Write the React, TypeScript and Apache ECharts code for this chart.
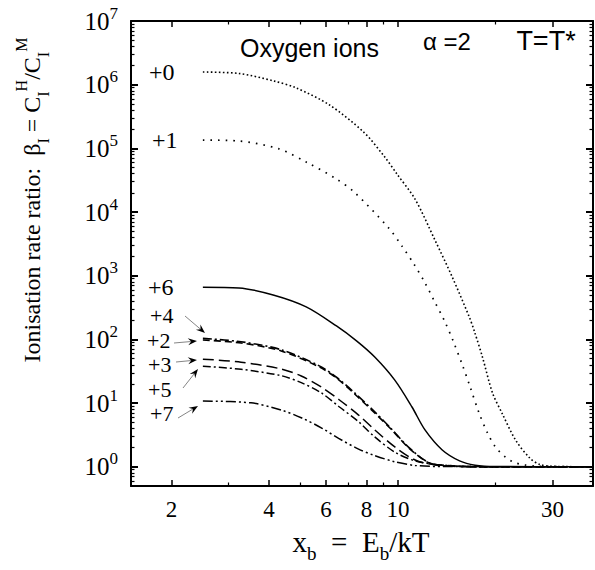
import React, { useEffect, useRef } from "react";
import * as echarts from "echarts";

// ---- data: [x_b, beta_I] ----
const ion0: [number, number][] = [[2.5,1.58e6],[3.23,1.5e6],[4.12,1.15e6],[4.85,8.9e5],[6.15,4.8e5],[7.84,1.8e5],[9.11,7.3e4],[9.93,3.96e4],[11.29,1.6e4],[13.02,3.6e3],[14.71,955],[16.61,224],[17.2,136],[18.23,53],[19.58,14.5],[21,6.8],[23.07,2.64],[25.5,1.38],[27.4,1.09],[30,1.02],[40,1]];
const ion1: [number, number][] = [[2.5,1.35e5],[3.2,1.31e5],[4.3,9.8e4],[5.21,6.1e4],[6.46,3.3e4],[7.35,2.03e4],[9.37,5.6e3],[10.3,2.9e3],[11.2,1.53e3],[12.1,785],[12.9,417],[13.9,199],[14.8,95],[15.8,40],[16.7,18],[17.8,7],[18.9,3.4],[20,2.05],[21.5,1.41],[22.9,1.17],[24.6,1.07],[27,1.02],[40,1]];
const ion6: [number, number][] = [[2.5,663],[3.23,645],[4.12,500],[5.21,325],[6.46,163],[7.45,95],[8.48,53],[9.78,23],[11.05,8.7],[12.12,3.8],[13.7,1.84],[15.5,1.24],[17.3,1.06],[20,1.01],[40,1]];
const ion4: [number, number][] = [[2.5,104],[3.28,92],[4.36,69],[5.72,38.5],[6.46,25.5],[7.3,15],[8.48,7.3],[9.57,3.9],[10.8,2.02],[12.5,1.16],[14.7,1.04],[18,1],[40,1]];
const ion2: [number, number][] = [[2.5,98],[3.28,88],[4.36,66],[5.72,37],[6.46,24.8],[7.3,14.4],[8.48,7],[9.57,3.8],[10.8,1.98],[12.5,1.15],[14.7,1.04],[18,1],[40,1]];
const ion3: [number, number][] = [[2.5,49],[3.28,44],[4.36,34.4],[5.03,26.7],[5.8,17.9],[6.6,11.2],[7.56,6.5],[8.48,3.8],[9.78,2.05],[11.3,1.28],[13,1.07],[16,1.01],[40,1]];
const ion5: [number, number][] = [[2.5,38],[3.28,34],[4.36,27],[5.03,21],[5.8,14.5],[6.6,8.7],[7.56,5.1],[8.48,2.95],[9.78,1.7],[11.3,1.24],[13.7,1.05],[16,1.01],[40,1]];
const ion7: [number, number][] = [[2.5,10.8],[3.52,10.1],[4.36,7.8],[5.03,5.9],[5.8,4.1],[6.56,2.8],[7.56,1.9],[8.48,1.5],[9.78,1.2],[11.3,1.05],[14,1.01],[40,1]];

const xMajorTicks = [2, 4, 6, 8, 10, 30];
const xMinorTicks = [3, 5, 7, 9, 20];
const yMajorTicks = [1, 10, 100, 1e3, 1e4, 1e5, 1e6, 1e7];
const yMinorTicks: number[] = [0.6, 0.7, 0.8, 0.9];
for (let e = 0; e < 7; e++) for (let k = 2; k <= 9; k++) yMinorTicks.push(k * Math.pow(10, e));

const seriesNames = ["+0", "+1", "+6", "+4", "+2", "+3", "+5", "+7"];

const SERIF = "'Liberation Serif', 'DejaVu Serif', serif";
const SANS = "'Liberation Sans', Arial, sans-serif";

function arrow(x1: number, y1: number, x2: number, y2: number) {
  const dx = x2 - x1, dy = y2 - y1;
  const len = Math.hypot(dx, dy);
  const ux = dx / len, uy = dy / len;
  const L = 9, W = 3.5;
  const bx = x2 - L * ux, by = y2 - L * uy;
  const nx = x2 - 0.65 * L * ux, ny = y2 - 0.65 * L * uy;
  return [
    { type: "line", shape: { x1, y1, x2: nx, y2: ny }, style: { stroke: "#777", lineWidth: 0.9 } },
    {
      type: "polygon",
      shape: { points: [[x2, y2], [bx - W * uy, by + W * ux], [nx, ny], [bx + W * uy, by - W * ux]] },
      style: { fill: "#000" },
    },
  ];
}

export default function App() {
  const ref = useRef<HTMLDivElement>(null);
  useEffect(() => {
    if (!ref.current) return;
    const chart = echarts.init(ref.current, null, { renderer: "svg" });

    const mkX = (pos: string, ticks: number[], len: number, w: number, labels: boolean, line: boolean) => ({
      type: "log",
      min: 1.5,
      max: 40,
      position: pos,
      axisLine: { show: line, lineStyle: { color: "#000", width: 2 } },
      axisTick: { show: true, inside: true, length: len, customValues: ticks, lineStyle: { color: "#000", width: w } },
      axisLabel: labels
        ? { show: true, customValues: xMajorTicks, margin: 12, fontSize: 23, fontFamily: SERIF, color: "#000", formatter: (v: number) => String(Math.round(v)) }
        : { show: false },
      minorTick: { show: false },
      splitLine: { show: false },
    });
    const mkY = (pos: string, ticks: number[], len: number, w: number, labels: boolean, line: boolean) => ({
      type: "log",
      min: 0.5,
      max: 1e7,
      position: pos,
      axisLine: { show: line, lineStyle: { color: "#000", width: 2 } },
      axisTick: { show: true, inside: true, length: len, customValues: ticks, lineStyle: { color: "#000", width: w } },
      axisLabel: labels
        ? {
            show: true,
            customValues: yMajorTicks,
            margin: 13,
            formatter: (v: number) => `{b|10}{s|${Math.round(Math.log10(v))}}`,
            rich: {
              b: { fontSize: 25, fontFamily: SERIF, color: "#000", lineHeight: 33 },
              s: { fontSize: 17, fontFamily: SERIF, color: "#000", verticalAlign: "top", lineHeight: 17 },
            },
          }
        : { show: false },
      minorTick: { show: false },
      splitLine: { show: false },
    });

    const styles: any[] = [
      { type: [1.6, 2.4], width: 1.6 },
      { type: [1.6, 6], width: 1.7 },
      { type: "solid", width: 1.5 },
      { type: [9, 3, 2, 3], width: 1.6 },
      { type: [7, 4], width: 1.6 },
      { type: [11, 5], width: 1.5 },
      { type: [8, 3, 2, 3], width: 1.5 },
      { type: [10, 3, 2, 3, 2, 3], width: 1.5 },
    ];
    const datas = [ion0, ion1, ion6, ion4, ion2, ion3, ion5, ion7];

    const labelPos: [string, number, number, number][] = [
      ["+0", 149, 72, 24], ["+1", 152, 140, 24], ["+6", 148, 287, 24], ["+4", 150, 315, 22],
      ["+2", 147, 340, 22], ["+3", 148, 364.5, 22], ["+5", 148, 389, 22], ["+7", 150, 413.5, 22],
    ];
    const graphics: any[] = labelPos.map(([t, x, y, fs]) => ({
      type: "text", x, y,
      style: { text: t, fontSize: fs, lineHeight: 20, fontFamily: SERIF, fill: "#000", align: "left", verticalAlign: "middle" },
    }));
    graphics.push(
      ...arrow(185, 316, 205, 333),
      ...arrow(174, 343, 197, 341),
      ...arrow(176, 362, 197, 360),
      ...arrow(183, 388, 198, 369),
      ...arrow(178, 418, 198, 406),
    );
    graphics.push({
      type: "text", x: 240, y: 48,
      style: { text: "Oxygen ions", fontSize: 25, fontFamily: SANS, fill: "#000", align: "left", verticalAlign: "middle" },
    });
    graphics.push({
      type: "text", x: 423, y: 41,
      style: { text: "α =2", fontSize: 24, fontFamily: SANS, fill: "#000", align: "left", verticalAlign: "middle" },
    });
    graphics.push({
      type: "text", x: 546, y: 41,
      style: { text: "T=T*", fontSize: 27, fontFamily: SANS, fill: "#000", align: "center", verticalAlign: "middle" },
    });
    graphics.push({
      type: "text", x: 361, y: 542,
      style: {
        text: "{m|x}{sub|b}{m|  =  E}{sub|b}{m|/kT}",
        align: "center", verticalAlign: "middle",
        rich: {
          m: { fontSize: 29, fontFamily: SERIF, fill: "#000", lineHeight: 42 },
          sub: { fontSize: 19, fontFamily: SERIF, fill: "#000", verticalAlign: "bottom", lineHeight: 19 },
        },
      },
    });
    graphics.push({
      type: "text", x: 32, y: 200, rotation: Math.PI / 2,
      style: {
        text: "{m|Ionisation rate ratio:  β}{sub|I}{m| = C}{sub|I}{sup|H}{m|/C}{sub|I}{sup|M}",
        align: "center", verticalAlign: "middle",
        rich: {
          m: { fontSize: 24, fontFamily: SERIF, fill: "#000", lineHeight: 38 },
          sub: { fontSize: 16, fontFamily: SERIF, fill: "#000", verticalAlign: "bottom", lineHeight: 16 },
          sup: { fontSize: 16, fontFamily: SERIF, fill: "#000", verticalAlign: "top", lineHeight: 16 },
        },
      },
    });

    chart.setOption({
      animation: false,
      backgroundColor: "#fff",
      grid: { left: 131, top: 21, width: 462, height: 465, containLabel: false, outerBoundsMode: "none" },
      xAxis: [
        mkX("bottom", xMajorTicks, 6, 1.5, true, true),
        mkX("bottom", xMinorTicks, 3.5, 1.2, false, false),
        mkX("top", xMajorTicks, 6, 1.5, false, true),
        mkX("top", xMinorTicks, 3.5, 1.2, false, false),
      ],
      yAxis: [
        mkY("left", yMajorTicks, 7, 2, true, true),
        mkY("left", yMinorTicks, 3.5, 1.2, false, false),
        mkY("right", yMajorTicks, 7, 2, false, true),
        mkY("right", yMinorTicks, 3.5, 1.2, false, false),
      ],
      series: datas.map((d, i) => ({
        name: seriesNames[i],
        type: "line",
        xAxisIndex: 0,
        yAxisIndex: 0,
        data: d,
        showSymbol: false,
        smooth: 0.3,
        lineStyle: { color: "#000", ...styles[i] },
        z: 3,
      })),
      graphic: graphics,
    });
    return () => chart.dispose();
  }, []);
  return <div ref={ref} style={{ position: "fixed", left: 0, top: 0, width: 595, height: 570, background: "#fff" }} />;
}
